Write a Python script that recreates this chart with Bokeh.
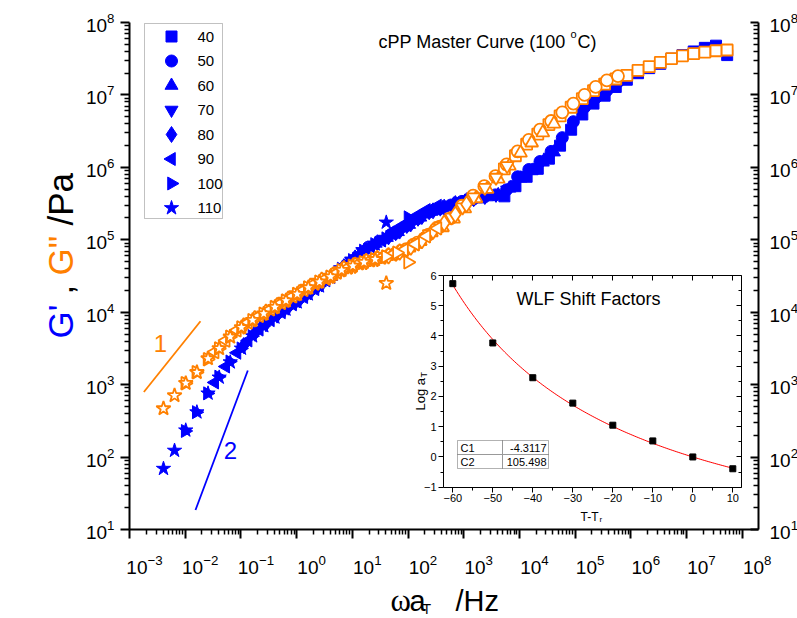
import math
from bokeh.plotting import figure
from bokeh.models import (LinearAxis, LogAxis, FixedTicker, Range1d, LinearScale, Label, BoxAnnotation)
from bokeh.embed import file_html
from bokeh.resources import INLINE

# ---------------- data ----------------
temperatures = [40, 50, 60, 70, 80, 90, 100, 110]
T_minus_Tr = [-60, -50, -40, -30, -20, -10, 0, 10]
log_aT = [5.73, 3.77, 2.62, 1.78, 1.05, 0.53, 0.0, -0.39]
C1 = -4.3117
C2 = 105.498

freq_hz = [0.01, 0.0158, 0.0251, 0.0398, 0.0631, 0.1, 0.158, 0.251, 0.398, 0.631,
           1.0, 1.58, 2.51, 3.98, 6.31, 10.0, 15.8, 25.1, 39.8, 63.1, 100.0]

# log10 of G' (storage) and G'' (loss) in Pa, per temperature
logGp_40 = [5.60, 5.74, 5.87, 5.98, 6.12, 6.30, 6.52, 6.73, 6.88, 6.99, 7.11, 7.21, 7.30, 7.37, 7.43, 7.50, 7.55, 7.60, 7.65, 7.68, 7.55]
logGpp_40 = [5.98, 6.16, 6.32, 6.46, 6.59, 6.71, 6.83, 6.95, 7.06, 7.15, 7.22, 7.27, 7.34, 7.39, 7.45, 7.50, 7.54, 7.57, 7.59, 7.61, 7.62]
logGp_50 = [5.09, 5.19, 5.29, 5.38, 5.43, 5.48, 5.53, 5.56, 5.59, 5.62, 5.69, 5.87, 5.97, 6.08, 6.22, 6.41, 6.63, 6.83, 6.96, 7.06, 7.18]
logGpp_50 = [4.81, 4.87, 4.96, 5.07, 5.18, 5.30, 5.47, 5.61, 5.74, 5.88, 6.04, 6.22, 6.38, 6.52, 6.64, 6.76, 6.88, 7.00, 7.11, 7.20, 7.26]
logGp_60 = [4.49, 4.61, 4.73, 4.86, 4.95, 5.03, 5.11, 5.21, 5.31, 5.39, 5.44, 5.49, 5.53, 5.56, 5.59, 5.62, 5.71, 5.85, 5.95, 6.07, 6.21]
logGpp_60 = [4.50, 4.59, 4.65, 4.69, 4.73, 4.77, 4.82, 4.89, 4.98, 5.10, 5.17, 5.29, 5.43, 5.57, 5.70, 5.84, 6.02, 6.20, 6.34, 6.48, 6.60]
logGp_70 = [4.03, 4.13, 4.24, 4.35, 4.47, 4.59, 4.71, 4.84, 4.93, 5.01, 5.09, 5.19, 5.29, 5.38, 5.43, 5.48, 5.53, 5.56, 5.59, 5.62, 5.69]
logGpp_70 = [4.15, 4.24, 4.33, 4.41, 4.48, 4.57, 4.63, 4.69, 4.73, 4.77, 4.81, 4.87, 4.96, 5.08, 5.19, 5.31, 5.45, 5.59, 5.72, 5.86, 6.02]
logGp_80 = [3.54, 3.71, 3.84, 3.96, 4.07, 4.17, 4.28, 4.39, 4.51, 4.63, 4.75, 4.87, 4.96, 5.04, 5.12, 5.22, 5.32, 5.40, 5.45, 5.50, 5.54]
logGpp_80 = [3.81, 3.91, 4.00, 4.09, 4.18, 4.27, 4.36, 4.44, 4.51, 4.60, 4.65, 4.70, 4.74, 4.78, 4.83, 4.90, 4.99, 5.12, 5.23, 5.35, 5.49]
logGp_90 = [3.03, 3.25, 3.44, 3.61, 3.76, 3.89, 4.00, 4.11, 4.21, 4.32, 4.44, 4.56, 4.68, 4.80, 4.91, 4.99, 5.12, 5.21, 5.32, 5.41, 5.47]
logGpp_90 = [3.45, 3.61, 3.75, 3.86, 3.95, 4.04, 4.13, 4.22, 4.31, 4.40, 4.47, 4.55, 4.62, 4.68, 4.72, 4.76, 4.80, 4.86, 4.94, 5.05, 5.16]
logGp_100 = [2.36, 2.62, 2.88, 3.11, 3.32, 3.50, 3.67, 3.81, 3.93, 4.04, 4.14, 4.25, 4.36, 4.48, 4.60, 4.72, 4.85, 4.94, 5.02, 5.10, 5.31]
logGpp_100 = [3.02, 3.17, 3.35, 3.50, 3.66, 3.79, 3.89, 3.98, 4.07, 4.16, 4.25, 4.34, 4.42, 4.49, 4.58, 4.64, 4.69, 4.73, 4.77, 4.82, 4.69]
logGp_110 = [1.84, 2.09, 2.37, 2.62, 2.88, 3.10, 3.31, 3.50, 3.67, 3.81, 3.93, 4.04, 4.14, 4.25, 4.36, 4.48, 4.60, 4.72, 4.85, 4.94, 5.24]
logGpp_110 = [2.67, 2.85, 3.02, 3.17, 3.36, 3.50, 3.66, 3.79, 3.89, 3.98, 4.07, 4.16, 4.25, 4.34, 4.42, 4.49, 4.58, 4.64, 4.69, 4.73, 4.40]

# guide lines for slope 1 and slope 2
slope1_x = [1.81e-3, 1.88e-2]
slope1_y = [7.9e2, 7.5e3]
slope2_x = [1.53e-2, 1.33e-1]
slope2_y = [1.86e1, 1.57e3]

# ---------------- styles / layout ----------------
BLUE = "#0000FF"
ORANGE = "#FF8000"
FONT = "Liberation Sans"

series = [
    (40, logGp_40, logGpp_40, "square", 0.0, 11),
    (50, logGp_50, logGpp_50, "circle", 0.0, 12),
    (60, logGp_60, logGpp_60, "triangle", 0.0, 13),
    (70, logGp_70, logGpp_70, "inverted_triangle", 0.0, 13),
    (80, logGp_80, logGpp_80, "diamond", 0.0, 16),
    (90, logGp_90, logGpp_90, "triangle", math.pi / 2, 13),
    (100, logGp_100, logGpp_100, "triangle", -math.pi / 2, 13),
    (110, logGp_110, logGpp_110, "star", 0.0, 15),
]

W, H = 797, 618
# main axes in page pixels: 1e-3 at x=129 with 55.7 px per decade, axis line up to x=758;
# 1e1..1e8 spans y 529..22
AX_L, AX_R, X_DEC = 129.0, 758.0, 55.7
AX_B, AX_T = 529.0, 22.0
Y_DEC = (AX_B - AX_T) / 7.0
x_axis_end = 10 ** (-3 + (AX_R - AX_L) / X_DEC)
xr = Range1d(10 ** (-3 - AX_L / X_DEC), 10 ** (-3 + (W - AX_L) / X_DEC))
yr = Range1d(10 ** (1 - (H - AX_B) / Y_DEC), 10 ** (8 + AX_T / Y_DEC))

p = figure(width=W, height=H, x_axis_type="log", y_axis_type="log",
           x_axis_location=None, y_axis_location=None,
           x_range=xr, y_range=yr, output_backend="svg", toolbar_location=None,
           min_border_left=0, min_border_right=0, min_border_top=0, min_border_bottom=0)
p.outline_line_color = None
p.grid.visible = False
p.background_fill_color = "white"
p.border_fill_color = "white"

# inset frame: T-Tr=-60 at x 452.3, 10 at 732.3; log aT=6 at y 275, -1 at y 486.7
ixs = (732.3 - 452.3) / 70.0
iys = (486.7 - 275.0) / 7.0
p.extra_x_ranges = {"inset": Range1d(-60 - 452.3 / ixs, -60 + (W - 452.3) / ixs), "px": Range1d(0, W)}
p.extra_y_ranges = {"inset": Range1d(6 - (H - 275.0) / iys, 6 + 275.0 / iys), "px": Range1d(H, 0)}
p.extra_x_scales = {"inset": LinearScale(), "px": LinearScale()}
p.extra_y_scales = {"inset": LinearScale(), "px": LinearScale()}

# ---------------- main axes ----------------
dec_x = [10.0 ** k for k in range(-3, 9)]
min_x = [m * 10.0 ** k for k in range(-3, 8) for m in range(2, 10)]
dec_y = [10.0 ** k for k in range(1, 9)]
min_y = [m * 10.0 ** k for k in range(1, 8) for m in range(2, 10)]


def style_main(ax, inward=False, labels=True):
    ax.axis_line_width = 2
    ax.axis_line_color = "black"
    ax.major_tick_line_width = 2
    ax.minor_tick_line_width = 1.5
    ax.major_tick_line_color = "black"
    ax.minor_tick_line_color = "black"
    if inward:
        ax.major_tick_in, ax.major_tick_out = 8, 0
        ax.minor_tick_in, ax.minor_tick_out = 5, 0
    else:
        ax.major_tick_in, ax.major_tick_out = 0, 9
        ax.minor_tick_in, ax.minor_tick_out = 0, 5
    ax.major_label_text_font = FONT
    ax.major_label_text_font_size = "19px"
    ax.major_label_text_color = "black" if labels else None


bottom = LogAxis(fixed_location=10.0, bounds=(1e-3, x_axis_end), ticker=FixedTicker(ticks=dec_x, minor_ticks=min_x))
style_main(bottom, labels=False)
p.add_layout(bottom, "below")

# labels of the bottom axis sit ~15 px right of their tick (as in the original)
lab_shift = 10 ** (15.0 / X_DEC)
bottom_lab = LogAxis(fixed_location=10.0, ticker=FixedTicker(ticks=[t * lab_shift for t in dec_x], minor_ticks=[]))
style_main(bottom_lab)
bottom_lab.axis_line_color = None
bottom_lab.major_tick_line_color = None
bottom_lab.minor_tick_line_color = None
bottom_lab.major_label_standoff = 16
p.add_layout(bottom_lab, "below")

left = LogAxis(fixed_location=1e-3, bounds=(10, 1e8), ticker=FixedTicker(ticks=dec_y, minor_ticks=min_y))
style_main(left)
left.major_label_standoff = 6
p.add_layout(left, "left")

right = LogAxis(fixed_location=x_axis_end, bounds=(10, 1e8), ticker=FixedTicker(ticks=dec_y, minor_ticks=min_y))
style_main(right, inward=True)
right.major_label_standoff = 11
p.add_layout(right, "right")

# ---------------- master curve data ----------------
for (T, gp, gpp, mk, ang, sz), a in zip(series, log_aT):
    x = [f * 10.0 ** a for f in freq_hz]
    y = [10.0 ** v for v in gp]
    p.scatter(x, y, marker=mk, angle=ang, size=sz, fill_color=BLUE, line_color=BLUE, line_width=1)

for (T, gp, gpp, mk, ang, sz), a in zip(series, log_aT):
    x = [f * 10.0 ** a for f in freq_hz]
    y = [10.0 ** v for v in gpp]
    p.scatter(x, y, marker=mk, angle=ang, size=sz, fill_color="white", line_color=ORANGE, line_width=1.8)

p.line(slope1_x, slope1_y, line_color=ORANGE, line_width=1.8)
p.line(slope2_x, slope2_y, line_color=BLUE, line_width=1.8)


def txt(text, x, y, size, color="black", font=FONT, align="left", baseline="alphabetic", angle=0.0):
    p.add_layout(Label(x=x, y=y, x_range_name="px", y_range_name="px", text=text,
                       text_font=font, text_font_size=f"{size}px", text_color=color,
                       text_align=align, text_baseline=baseline, angle=angle))


# ---------------- legend (page-pixel coordinates) ----------------
p.add_layout(BoxAnnotation(left=144, right=222, top=23, bottom=218, x_range_name="px", y_range_name="px",
                           fill_color=None, line_color="#333333", line_width=1))
for i, (T, gp, gpp, mk, ang, sz) in enumerate(series):
    row_y = 36 + 24.5 * i
    p.scatter([171], [row_y], marker=mk, angle=ang, size=sz, fill_color=BLUE, line_color=BLUE,
              x_range_name="px", y_range_name="px")
    txt(str(T), 197, row_y, 15, baseline="middle")

# ---------------- inset: WLF shift factors ----------------
T_fit = [-60 + 0.5 * i for i in range(141)]
logaT_fit = [C1 * t / (C2 + t) for t in T_fit]
p.line(T_fit, logaT_fit, line_color="red", line_width=1, x_range_name="inset", y_range_name="inset")
p.scatter(T_minus_Tr, log_aT, marker="square", size=6, fill_color="black", line_color="black",
          x_range_name="inset", y_range_name="inset")

X0, X1, Y0, Y1 = -62.3, 12.2, -1.0, 6.0
ix_major = [-60, -50, -40, -30, -20, -10, 0, 10]
ix_minor = [-55, -45, -35, -25, -15, -5, 5]
iy_major = [-1, 0, 1, 2, 3, 4, 5, 6]
iy_minor = [-0.5, 0.5, 1.5, 2.5, 3.5, 4.5, 5.5]


def inset_axis(side, loc, bounds, ticks, minors, labels):
    ax = LinearAxis(x_range_name="inset", y_range_name="inset", fixed_location=loc, bounds=bounds,
                    ticker=FixedTicker(ticks=ticks, minor_ticks=minors))
    ax.axis_line_width = 1
    ax.axis_line_color = "black"
    ax.major_tick_in, ax.major_tick_out = 0, 5
    ax.minor_tick_in, ax.minor_tick_out = 0, 3
    ax.major_tick_line_width = 1
    ax.minor_tick_line_width = 1
    ax.major_label_text_font = FONT
    ax.major_label_text_font_size = "11px"
    ax.major_label_text_color = "black" if labels else None
    ax.major_label_standoff = 2
    p.add_layout(ax, side)
    return ax


inset_axis("below", Y0, (X0, X1), ix_major, ix_minor, True)    # bottom
inset_axis("below", Y1, (X0, X1), ix_major, ix_minor, False)   # top (ticks point down, into inset)
inset_axis("left", X0, (Y0, Y1), iy_major, iy_minor, True)     # left
inset_axis("left", X1, (Y0, Y1), iy_major, iy_minor, False)    # right (ticks point left, into inset)

# parameter table in the inset
p.segment(x0=[502, 457], y0=[440, 454], x1=[502, 548], y1=[468, 454], line_color="#999999", line_width=1,
          x_range_name="px", y_range_name="px")
p.add_layout(BoxAnnotation(left=457, right=548, top=440, bottom=468, x_range_name="px", y_range_name="px",
                           fill_color=None, line_color="black", line_width=1))

txt("C1", 460, 447, 11, baseline="middle")
txt(f"{C1}", 546, 447, 11, align="right", baseline="middle")
txt("C2", 460, 461, 11, baseline="middle")
txt(f"{C2}", 546, 461, 11, align="right", baseline="middle")

txt("WLF Shift Factors", 588, 298, 18, align="center", baseline="middle")
txt("T-T", 580, 516, 12)
txt("r", 599, 519, 8)
txt("Log a", 420, 410, 13, angle=math.pi / 2)
txt("T", 423, 377, 9, angle=math.pi / 2)

# ---------------- titles and annotations ----------------
txt("cPP Master Curve (100", 378, 41, 18)
txt("o", 570, 33, 11)
txt("C)", 577, 41, 18)

# y title: G' , G'' /Pa (rotated, pieces placed one after another)
txt("G'", 60, 338, 35, color=BLUE, angle=math.pi / 2)
txt(",", 60, 294, 35, angle=math.pi / 2)
txt('G"', 60, 275, 35, color=ORANGE, angle=math.pi / 2)
txt("/Pa", 60, 225, 35, angle=math.pi / 2)

# x title: omega a_T /Hz
txt("\u03c9", 390, 600, 31, font="Liberation Serif")
txt("a", 409, 600, 29)
txt("T", 422, 608, 14)
txt("/Hz", 455, 600, 29)

txt("1", 160, 343, 24, color=ORANGE, align="center", baseline="middle")
txt("2", 230, 450, 24, color=BLUE, align="center", baseline="middle")

open("out.html", "w").write(file_html(p, INLINE))
